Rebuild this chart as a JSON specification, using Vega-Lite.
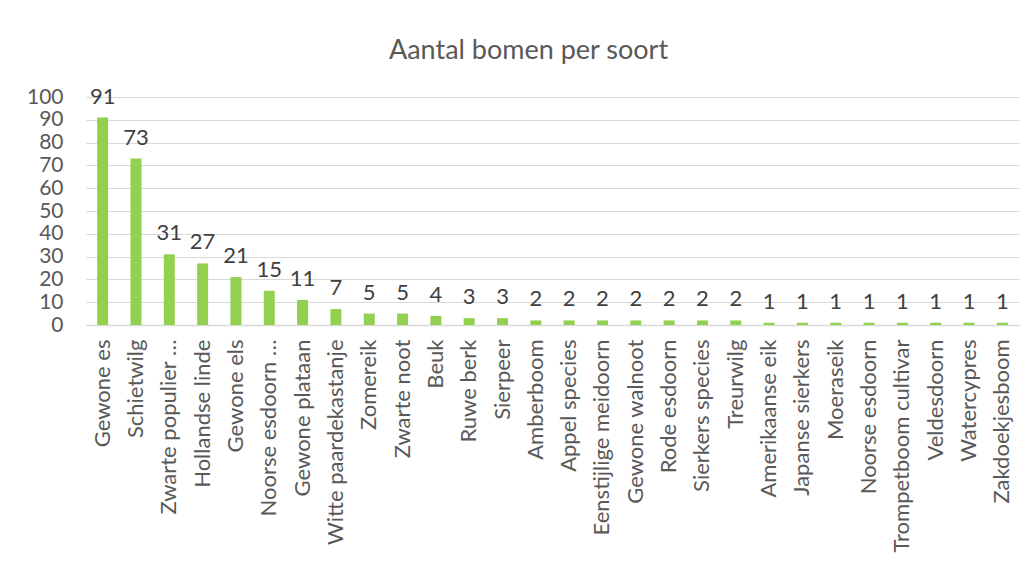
{
  "$schema": "https://vega.github.io/schema/vega-lite/v6.json",
  "width": 933,
  "height": 228,
  "autosize": {"type": "none"},
  "padding": {"left": 86, "top": 97, "right": 13, "bottom": 246},
  "background": "white",
  "config": {"view": {"stroke": null}, "font": "Lato", "text": {"font": "Lato"}},
  "title": {
    "text": "Aantal bomen per soort",
    "fontSize": 27,
    "font": "Lato",
    "fontWeight": "normal",
    "color": "#595959",
    "frame": "group",
    "anchor": "middle",
    "offset": 21,
    "dx": -24
  },
  "data": {
    "values": [
      {"soort": "Gewone es", "aantal": 91},
      {"soort": "Schietwilg", "aantal": 73},
      {"soort": "Zwarte populier …", "aantal": 31},
      {"soort": "Hollandse linde", "aantal": 27},
      {"soort": "Gewone els", "aantal": 21},
      {"soort": "Noorse esdoorn …", "aantal": 15},
      {"soort": "Gewone plataan", "aantal": 11},
      {"soort": "Witte paardekastanje", "aantal": 7},
      {"soort": "Zomereik", "aantal": 5},
      {"soort": "Zwarte noot", "aantal": 5},
      {"soort": "Beuk", "aantal": 4},
      {"soort": "Ruwe berk", "aantal": 3},
      {"soort": "Sierpeer", "aantal": 3},
      {"soort": "Amberboom", "aantal": 2},
      {"soort": "Appel species", "aantal": 2},
      {"soort": "Eenstijlige meidoorn", "aantal": 2},
      {"soort": "Gewone walnoot", "aantal": 2},
      {"soort": "Rode esdoorn", "aantal": 2},
      {"soort": "Sierkers species", "aantal": 2},
      {"soort": "Treurwilg", "aantal": 2},
      {"soort": "Amerikaanse eik", "aantal": 1},
      {"soort": "Japanse sierkers", "aantal": 1},
      {"soort": "Moeraseik", "aantal": 1},
      {"soort": "Noorse esdoorn", "aantal": 1},
      {"soort": "Trompetboom cultivar", "aantal": 1},
      {"soort": "Veldesdoorn", "aantal": 1},
      {"soort": "Watercypres", "aantal": 1},
      {"soort": "Zakdoekjesboom", "aantal": 1}
    ]
  },
  "encoding": {
    "x": {
      "field": "soort",
      "type": "nominal",
      "sort": null,
      "scale": {"paddingInner": 0.67, "paddingOuter": 0.335},
      "axis": {
        "title": null,
        "labelAngle": -90,
        "labelFontSize": 22,
        "labelFont": "Lato",
        "labelColor": "#595959",
        "labelPadding": 14,
        "ticks": false,
        "domainColor": "#d9d9d9",
        "domainWidth": 1.5,
        "labelLimit": 300,
        "labelBaseline": "middle",
        "labelAlign": "right"
      }
    },
    "y": {
      "field": "aantal",
      "type": "quantitative",
      "scale": {"domain": [0, 100]},
      "axis": {
        "title": null,
        "values": [0, 10, 20, 30, 40, 50, 60, 70, 80, 90, 100],
        "domain": false,
        "ticks": false,
        "labelFontSize": 21,
        "labelFont": "Lato",
        "labelColor": "#595959",
        "labelPadding": 23,
        "gridColor": "#d9d9d9",
        "gridWidth": 1
      }
    }
  },
  "layer": [
    {"mark": {"type": "bar", "color": "#92D050"}},
    {
      "mark": {"type": "text", "dy": -9, "baseline": "bottom", "fontSize": 22, "color": "#404040", "font": "Lato"},
      "encoding": {"text": {"field": "aantal", "type": "quantitative"}}
    }
  ]
}
